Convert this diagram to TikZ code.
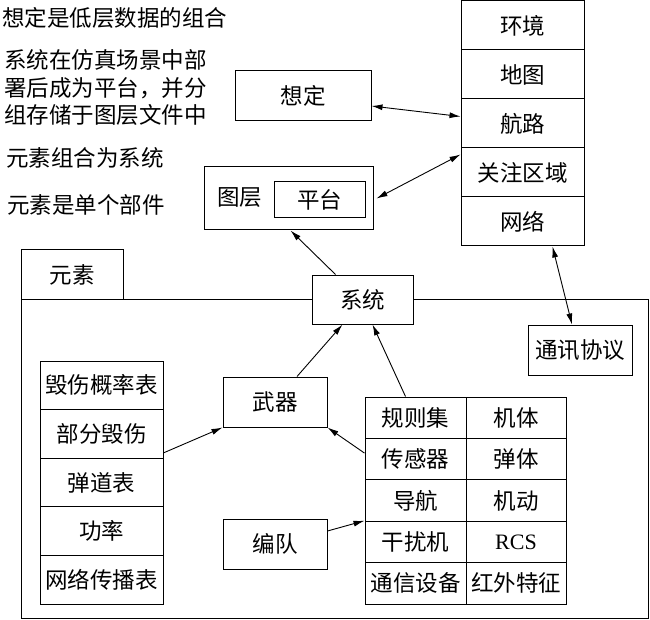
\documentclass[tikz,border=0pt]{standalone}
\usepackage{fontspec}
\newfontfamily\cjk{Noto Sans CJK SC}
\newfontfamily\serif{Liberation Serif}
\usetikzlibrary{arrows.meta}
\tikzset{
    cell/.style={draw=black, line width=1pt, fill=white, inner sep=0pt,
        font=\cjk\fontsize{22.5}{27.5}\selectfont},
    note/.style={anchor=west, inner sep=0pt, align=left,
        font=\cjk\fontsize{22.5}{27.5}\selectfont},
    link/.style={line width=0.9pt, -{Latex[length=11pt,width=6pt]}},
    twoway/.style={line width=0.9pt, {Latex[length=11pt,width=6pt]}-{Latex[length=11pt,width=6pt]}}
}

\begin{document}
\begin{tikzpicture}[x=1pt,y=-1pt]
    \useasboundingbox (0,0) rectangle (650,620);

    \node[note] (rule1) at (2,18) {想定是低层数据的组合};
    \node[note] (rule2) at (4,88) {系统在仿真场景中部\\署后成为平台，并分\\组存储于图层文件中};
    \node[note] (rule3) at (6,158) {元素组合为系统};
    \node[note] (rule4) at (7,205) {元素是单个部件};

    \node[cell, minimum width=123, minimum height=49] (env) at (522.5,25.5) {环境};
    \node[cell, minimum width=123, minimum height=49] (map) at (522.5,74.5) {地图};
    \node[cell, minimum width=123, minimum height=49] (route) at (522.5,123.5) {航路};
    \node[cell, minimum width=123, minimum height=49] (area) at (522.5,172.5) {关注区域};
    \node[cell, minimum width=123, minimum height=49] (net) at (522.5,221.5) {网络};

    \node[cell, minimum width=136, minimum height=50] (scen) at (303,96) {想定};
    \node[cell, minimum width=169, minimum height=63] (layer) at (288.5,198.5) {};
    \node[note] (layertxt) at (217,198) {图层};
    \node[cell, minimum width=91, minimum height=36] (platform) at (319.5,200) {平台};

    \draw[twoway] ([yshift=-10pt]scen.east) -- ([yshift=7pt]route.west);
    \draw[twoway] ([xshift=3pt]layer.east) -- ([yshift=18pt]area.west);

    \node[cell, minimum width=102, minimum height=49] (elemtab) at (72,274.5) {元素};
    \draw[line width=1pt] (21,299) rectangle (648,618);

    \node[cell, minimum width=101, minimum height=49] (sys) at (362.5,299.5) {系统};
    \node[cell, minimum width=104, minimum height=50] (comm) at (580,350) {通讯协议};
    \draw[twoway] ([xshift=30pt]net.south) -- ([xshift=-8pt]comm.north);
    \draw[link] ([xshift=-27pt]sys.north) -- ([xshift=2pt]layer.south);

    \node[cell, minimum width=123, minimum height=48.6] (kill) at (101.5,385.3) {毁伤概率表};
    \node[cell, minimum width=123, minimum height=48.6] (part) at (101.5,433.9) {部分毁伤};
    \node[cell, minimum width=123, minimum height=48.6] (ballis) at (101.5,482.5) {弹道表};
    \node[cell, minimum width=123, minimum height=48.6] (power) at (101.5,531.1) {功率};
    \node[cell, minimum width=123, minimum height=48.6] (spread) at (101.5,579.7) {网络传播表};

    \node[cell, minimum width=104, minimum height=50] (weapon) at (275,402) {武器};
    \node[cell, minimum width=104, minimum height=50] (team) at (275,544) {编队};

    \node[cell, minimum width=101, minimum height=41.4] (ruleset) at (415.5,417.7) {规则集};
    \node[cell, minimum width=101, minimum height=41.4] (sensor) at (415.5,459.1) {传感器};
    \node[cell, minimum width=101, minimum height=41.4] (nav) at (415.5,500.5) {导航};
    \node[cell, minimum width=101, minimum height=41.4] (jam) at (415.5,541.9) {干扰机};
    \node[cell, minimum width=101, minimum height=41.4] (radio) at (415.5,583.3) {通信设备};
    \node[cell, minimum width=100, minimum height=41.4] (body) at (516,417.7) {机体};
    \node[cell, minimum width=100, minimum height=41.4] (warhead) at (516,459.1) {弹体};
    \node[cell, minimum width=100, minimum height=41.4] (moves) at (516,500.5) {机动};
    \node[cell, minimum width=100, minimum height=41.4] (rcs) at (516,541.9) {\serif\fontsize{22}{26}\selectfont RCS};
    \node[cell, minimum width=100, minimum height=41.4] (infra) at (516,583.3) {红外特征};

    \draw[link] ([yshift=-19pt]part.east) -- (weapon.south west);
    \draw[link] ([xshift=22pt]weapon.north) -- ([xshift=-20pt]sys.south);
    \draw[link] ([xshift=-10pt]ruleset.north) -- ([xshift=10pt]sys.south);
    \draw[link] ([yshift=6pt]sensor.west) -- (weapon.south east);
    \draw[link] ([yshift=13pt]team.east) -- (jam.north west);
\end{tikzpicture}
\end{document}
